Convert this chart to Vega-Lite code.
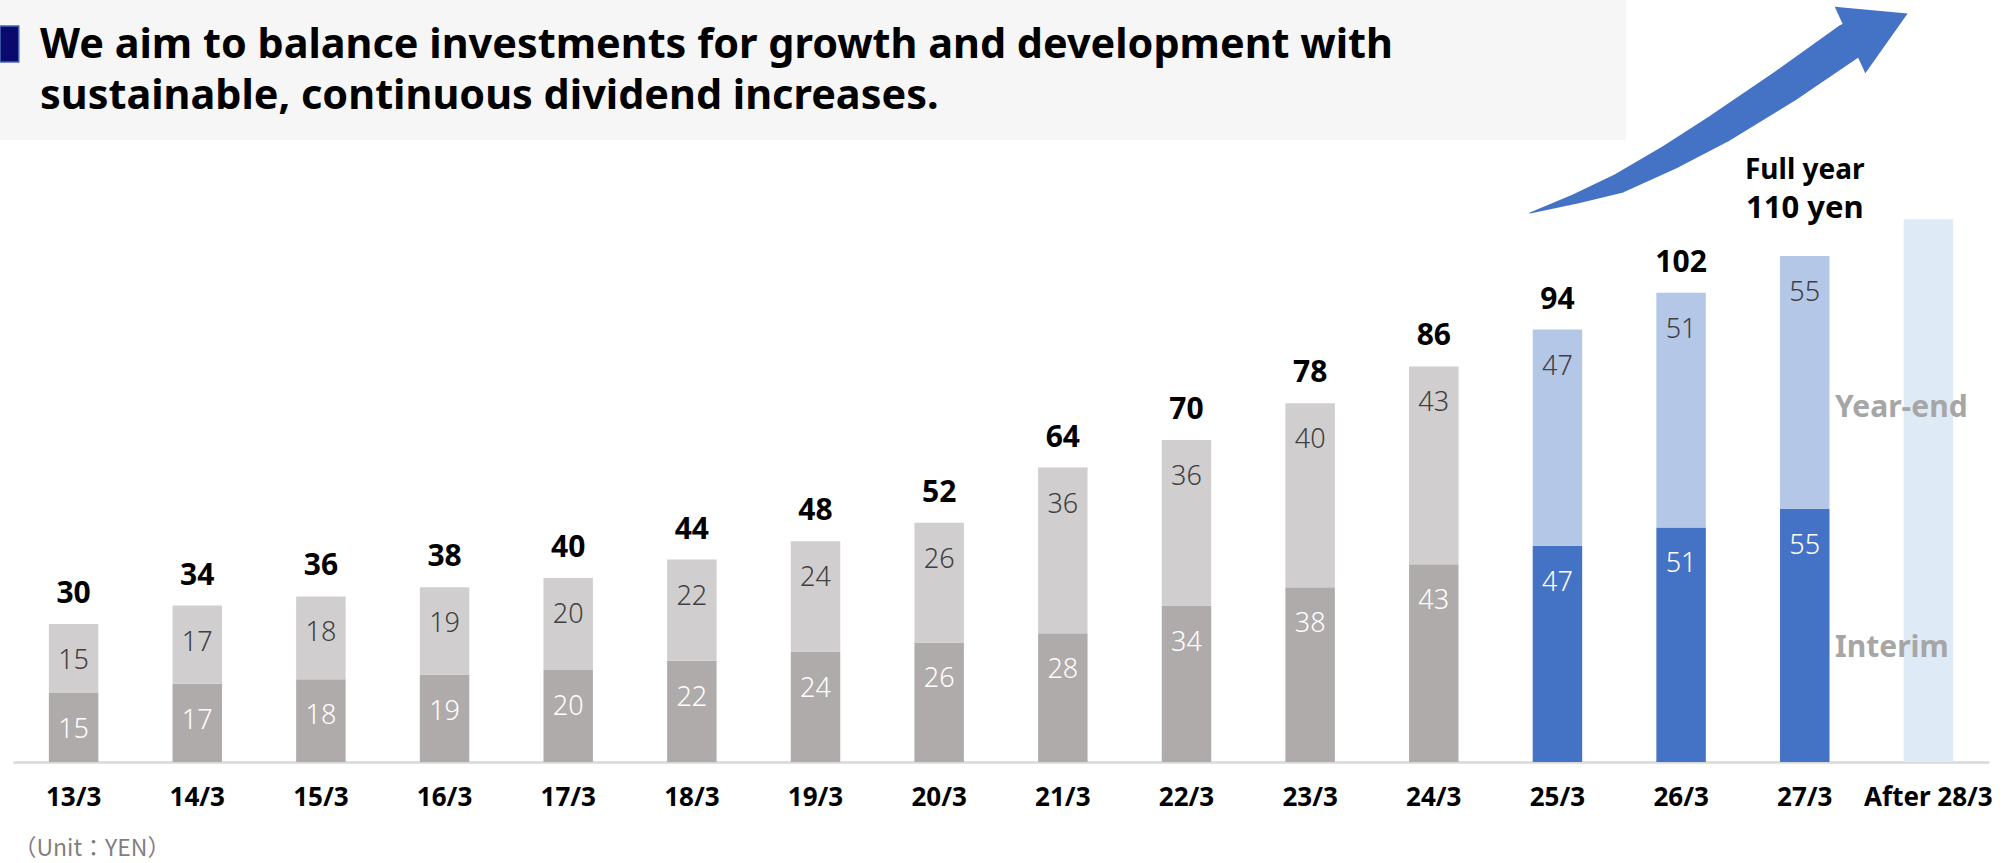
{
  "$schema": "https://vega.github.io/schema/vega-lite/v6.json",
  "width": 1976,
  "height": 762,
  "autosize": "none",
  "padding": {"left": 13, "top": 0, "right": 19, "bottom": 101},
  "background": "#FFFFFF",
  "config": {"view": {"stroke": null}, "font": "Noto Sans"},
  "datasets": {
    "dividends": [
      {"period": "13/3", "interim": 15, "yearend": 15, "total": 30, "kind": "actual"},
      {"period": "14/3", "interim": 17, "yearend": 17, "total": 34, "kind": "actual"},
      {"period": "15/3", "interim": 18, "yearend": 18, "total": 36, "kind": "actual"},
      {"period": "16/3", "interim": 19, "yearend": 19, "total": 38, "kind": "actual"},
      {"period": "17/3", "interim": 20, "yearend": 20, "total": 40, "kind": "actual"},
      {"period": "18/3", "interim": 22, "yearend": 22, "total": 44, "kind": "actual"},
      {"period": "19/3", "interim": 24, "yearend": 24, "total": 48, "kind": "actual"},
      {"period": "20/3", "interim": 26, "yearend": 26, "total": 52, "kind": "actual"},
      {"period": "21/3", "interim": 28, "yearend": 36, "total": 64, "kind": "actual"},
      {"period": "22/3", "interim": 34, "yearend": 36, "total": 70, "kind": "actual"},
      {"period": "23/3", "interim": 38, "yearend": 40, "total": 78, "kind": "actual"},
      {"period": "24/3", "interim": 43, "yearend": 43, "total": 86, "kind": "actual"},
      {"period": "25/3", "interim": 47, "yearend": 47, "total": 94, "kind": "plan"},
      {"period": "26/3", "interim": 51, "yearend": 51, "total": 102, "kind": "plan"},
      {"period": "27/3", "interim": 55, "yearend": 55, "total": 110, "kind": "plan"},
      {"period": "After 28/3", "total": 118, "kind": "target"}
    ],
    "arrow": [
      {"ax": 11.778, "ay": 119.35, "t": 0},
      {"ax": 12.142, "ay": 122.39, "t": 0.27},
      {"ax": 12.506, "ay": 125.87, "t": 0.54},
      {"ax": 12.911, "ay": 131.52, "t": 0.70},
      {"ax": 13.315, "ay": 137.83, "t": 0.85},
      {"ax": 13.841, "ay": 146.96, "t": 0.95},
      {"ax": 14.366, "ay": 156.80, "t": 1.0}
    ]
  },
  "layer": [
    {
      "data": {"name": "dividends"},
      "encoding": {
        "x": {
          "field": "period", "type": "nominal", "sort": null,
          "scale": {"paddingInner": 0.6, "paddingOuter": 0.29},
          "axis": {
            "title": "（Unit：YEN）",
            "titleFont": "Noto Sans CJK JP", "titleFontSize": 23, "titleFontWeight": "normal",
            "titleColor": "#7F7F7F", "titleAnchor": "start", "titleAlign": "left",
            "titleBaseline": "alphabetic", "titleX": 0, "titleY": 93,
            "labelAngle": 0, "labelFont": "Noto Sans", "labelFontSize": 26, "labelFontWeight": "bold",
            "labelColor": "#000000", "labelBaseline": "alphabetic", "labelPadding": 43,
            "labelOverlap": false, "ticks": false, "tickSize": 0,
            "domainColor": "#D9D9D9", "domainWidth": 2.5, "grid": false
          }
        }
      },
      "layer": [
        {
          "transform": [{"filter": "datum.kind !== 'target'"}],
          "mark": {"type": "bar"},
          "encoding": {
            "y": {"field": "interim", "type": "quantitative", "scale": {"domain": [0, 165.65], "nice": false}, "axis": null},
            "color": {"condition": {"test": "datum.kind === 'plan'", "value": "#4472C4"}, "value": "#AFABAB"}
          }
        },
        {
          "transform": [{"filter": "datum.kind !== 'target'"}],
          "mark": {"type": "bar"},
          "encoding": {
            "y": {"field": "total", "type": "quantitative", "scale": {"domain": [0, 165.65], "nice": false}, "axis": null},
            "y2": {"field": "interim"},
            "color": {"condition": {"test": "datum.kind === 'plan'", "value": "#B4C7E7"}, "value": "#D0CECE"}
          }
        },
        {
          "transform": [{"filter": "datum.kind === 'target'"}],
          "mark": {"type": "bar", "color": "#DEEBF7"},
          "encoding": {
            "y": {"field": "total", "type": "quantitative", "scale": {"domain": [0, 165.65], "nice": false}, "axis": null}
          }
        },
        {
          "transform": [{"filter": "datum.kind !== 'target'"}],
          "mark": {"type": "text", "dy": 45, "baseline": "alphabetic", "fontSize": 27, "fontWeight": 300, "color": "#FFFFFF"},
          "encoding": {
            "y": {"field": "interim", "type": "quantitative", "scale": {"domain": [0, 165.65], "nice": false}, "axis": null},
            "text": {"field": "interim", "type": "quantitative"}
          }
        },
        {
          "transform": [{"filter": "datum.kind !== 'target'"}],
          "mark": {"type": "text", "dy": 45, "baseline": "alphabetic", "fontSize": 27, "fontWeight": 300, "color": "#404040"},
          "encoding": {
            "y": {"field": "total", "type": "quantitative", "scale": {"domain": [0, 165.65], "nice": false}, "axis": null},
            "text": {"field": "yearend", "type": "quantitative"}
          }
        },
        {
          "transform": [{"filter": "datum.kind !== 'target' && datum.period !== '27/3'"}],
          "mark": {"type": "text", "dy": -21, "baseline": "alphabetic", "fontSize": 30, "fontWeight": "bold", "color": "#000000"},
          "encoding": {
            "y": {"field": "total", "type": "quantitative", "scale": {"domain": [0, 165.65], "nice": false}, "axis": null},
            "text": {"field": "total", "type": "quantitative"}
          }
        },
        {
          "transform": [{"filter": "datum.period === '27/3'"}],
          "mark": {"type": "text", "dy": -77, "baseline": "alphabetic", "fontSize": 28, "fontWeight": "bold", "color": "#000000"},
          "encoding": {
            "y": {"field": "total", "type": "quantitative", "scale": {"domain": [0, 165.65], "nice": false}, "axis": null},
            "text": {"value": "Full year"}
          }
        },
        {
          "transform": [{"filter": "datum.period === '27/3'"}],
          "mark": {"type": "text", "dy": -38, "baseline": "alphabetic", "fontSize": 31, "fontWeight": "bold", "color": "#000000"},
          "encoding": {
            "y": {"field": "total", "type": "quantitative", "scale": {"domain": [0, 165.65], "nice": false}, "axis": null},
            "text": {"value": "110 yen"}
          }
        }
      ]
    },
    {
      "layer": [
        {
          "data": {"values": [{}]},
          "mark": {"type": "rect", "color": "#F6F6F6"},
          "encoding": {
            "x": {"datum": -0.595, "type": "quantitative", "scale": {"domain": [-0.49, 15.49], "nice": false, "zero": false}, "axis": null},
            "x2": {"datum": 12.555},
            "y": {"datum": 165.65, "type": "quantitative", "scale": {"domain": [0, 165.65], "nice": false}, "axis": null},
            "y2": {"datum": 135.22}
          }
        },
        {
          "data": {"values": [{}]},
          "mark": {"type": "rect", "color": "#0A0A6E", "stroke": "#4A67B0", "strokeWidth": 1.5},
          "encoding": {
            "x": {"datum": -0.595, "type": "quantitative", "scale": {"domain": [-0.49, 15.49], "nice": false, "zero": false}, "axis": null},
            "x2": {"datum": -0.443},
            "y": {"datum": 160.0, "type": "quantitative", "scale": {"domain": [0, 165.65], "nice": false}, "axis": null},
            "y2": {"datum": 152.17}
          }
        },
        {
          "data": {"values": [{}]},
          "mark": {"type": "text", "align": "left", "baseline": "alphabetic", "fontSize": 41.4, "fontWeight": "bold", "color": "#000000", "lineHeight": 51.5},
          "encoding": {
            "x": {"datum": -0.272, "type": "quantitative", "scale": {"domain": [-0.49, 15.49], "nice": false, "zero": false}, "axis": null},
            "y": {"datum": 153.1, "type": "quantitative", "scale": {"domain": [0, 165.65], "nice": false}, "axis": null},
            "text": {"value": ["We aim to balance investments for growth and development with", "sustainable, continuous dividend increases."]}
          }
        },
        {
          "data": {"name": "arrow"},
          "mark": {"type": "trail", "color": "#4472C4"},
          "encoding": {
            "x": {"field": "ax", "type": "quantitative", "scale": {"domain": [-0.49, 15.49], "nice": false, "zero": false}, "axis": null},
            "y": {"field": "ay", "type": "quantitative", "scale": {"domain": [0, 165.65], "nice": false}, "axis": null},
            "size": {"field": "t", "type": "quantitative", "scale": {"domain": [0, 1], "range": [0, 37]}, "legend": null}
          }
        },
        {
          "data": {"values": [{}]},
          "mark": {"type": "point", "shape": "triangle-right", "filled": true, "opacity": 1, "color": "#4472C4", "size": 5358, "angle": 335.3},
          "encoding": {
            "x": {"datum": 14.599, "type": "quantitative", "scale": {"domain": [-0.49, 15.49], "nice": false, "zero": false}, "axis": null},
            "y": {"datum": 159.82, "type": "quantitative", "scale": {"domain": [0, 165.65], "nice": false}, "axis": null}
          }
        },
        {
          "data": {"values": [{}]},
          "mark": {"type": "text", "align": "left", "baseline": "alphabetic", "fontSize": 30, "fontWeight": "bold", "color": "#A6A6A6"},
          "encoding": {
            "x": {"datum": 14.245, "type": "quantitative", "scale": {"domain": [-0.49, 15.49], "nice": false, "zero": false}, "axis": null},
            "y": {"datum": 75.0, "type": "quantitative", "scale": {"domain": [0, 165.65], "nice": false}, "axis": null},
            "text": {"value": "Year-end"}
          }
        },
        {
          "data": {"values": [{}]},
          "mark": {"type": "text", "align": "left", "baseline": "alphabetic", "fontSize": 30, "fontWeight": "bold", "color": "#A6A6A6"},
          "encoding": {
            "x": {"datum": 14.245, "type": "quantitative", "scale": {"domain": [-0.49, 15.49], "nice": false, "zero": false}, "axis": null},
            "y": {"datum": 22.83, "type": "quantitative", "scale": {"domain": [0, 165.65], "nice": false}, "axis": null},
            "text": {"value": "Interim"}
          }
        }
      ]
    }
  ],
  "resolve": {"scale": {"x": "independent"}}
}
